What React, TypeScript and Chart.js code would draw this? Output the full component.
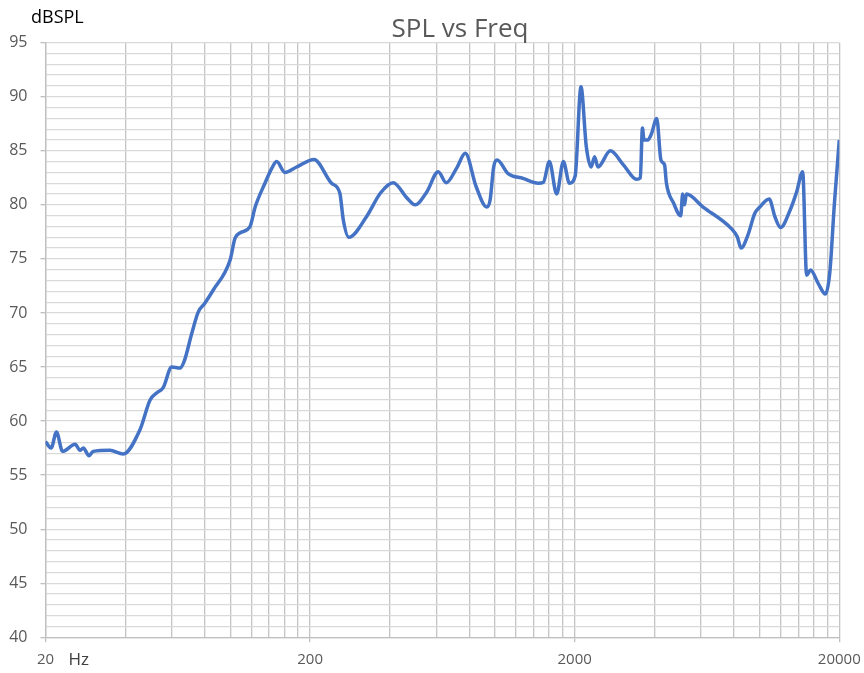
import React, { useEffect, useRef } from "react";
import { Chart, registerables } from "chart.js";

Chart.register(...registerables);

// Frequency (Hz) of each traced point
const FREQ: number[] = [
  20, 21, 22, 23.2, 25.9, 27.0, 27.8, 29.2, 30.3, 35.0,
  39.3, 45.5, 49.7, 52.6, 55.7, 60, 64.4, 67, 71.4, 75.6,
  80, 86, 99.7, 104, 108.6, 118.6, 124, 135, 143.4, 149.5,
  160.6, 177.8, 207, 241, 259, 267, 280, 326.6, 369, 412,
  466, 499, 552, 610, 654, 716, 772, 848, 930, 958,
  988, 1018, 1120, 1276, 1456, 1524, 1604, 1710, 1812, 1910,
  2008, 2112, 2212, 2308, 2378, 2448, 2728, 3056, 3426, 3540,
  3606, 3656, 3780, 3904, 4084, 4236, 4372, 4444, 4730, 5032,
  5118, 5200, 5284, 6112, 7820, 8230, 8510, 9028, 9580, 10012,
  10866, 11420, 12000, 13030, 13800, 14540, 15050, 15580, 16640, 17720,
  18400, 19170, 20000,
];

// Sound pressure level (dBSPL) at each frequency
const SPL: number[] = [
  58.1, 57.5, 59.0, 57.2, 57.85, 57.3, 57.5, 56.8, 57.2, 57.3,
  56.95, 59.2, 61.95, 62.6, 63.1, 65.0, 64.9, 65.6, 68.1, 70.1,
  70.9, 72.1, 74.9, 76.9, 77.4, 78.0, 79.8, 82.0, 83.4, 84.0,
  83.0, 83.5, 84.2, 82.0, 81.1, 78.6, 77.0, 78.9, 81.1, 82.05,
  80.6, 80.0, 81.2, 83.07, 82.05, 83.4, 84.77, 81.7, 79.8, 80.45,
  83.5, 84.15, 82.9, 82.45, 82.0, 82.1, 84.0, 81.0, 84.0, 82.0,
  82.67, 90.93, 85.4, 83.5, 84.45, 83.5, 85.0, 83.7, 82.36, 82.5,
  87.1, 86.0, 86.0, 86.6, 88.0, 84.15, 83.7, 82.0, 80.15, 79.0,
  81.0, 80.0, 81.0, 79.8, 77.8, 77.05, 76.0, 77.2, 79.2, 79.8,
  80.55, 78.9, 77.9, 79.5, 81.2, 83.07, 73.5, 73.97, 72.74, 71.75,
  73.67, 80.15, 86.0,
];

// X axis: vertical gridlines and labelled ticks
const X_GRID: number[] = [
  20, 40, 60, 80, 100, 120, 140, 160, 180,
  200, 400, 600, 800, 1000, 1200, 1400, 1600, 1800,
  2000, 4000, 6000, 8000, 10000, 12000, 14000, 16000, 18000,
  20000,
];
const X_LABELS: number[] = [20, 200, 2000, 20000];

// Y axis: labelled ticks and minor gridline step
const Y_LABELS: number[] = [40, 45, 50, 55, 60, 65, 70, 75, 80, 85, 90, 95];
const Y_MIN = 40;
const Y_MAX = 95;
const Y_MINOR_STEP = 1;

const TITLE = "SPL vs Freq";
const Y_UNIT = "dBSPL";
const X_UNIT = "Hz";

const FONT = "'Open Sans', 'Noto Sans', sans-serif";

export default function App() {
  const ref = useRef<HTMLCanvasElement | null>(null);

  useEffect(() => {
    if (!ref.current) return;
    const points = FREQ.map((f, i) => ({ x: f, y: SPL[i] }));

    const yGrid: number[] = [];
    for (let v = Y_MIN; v <= Y_MAX + 1e-9; v += Y_MINOR_STEP) yGrid.push(v);

    const textPlugin = {
      id: "extraText",
      afterDraw(chart: any) {
        const ctx = chart.ctx;
        const area = chart.chartArea;
        ctx.save();
        ctx.textBaseline = "alphabetic";
        // Title
        ctx.fillStyle = "#595959";
        ctx.font = `26px ${FONT}`;
        ctx.textAlign = "center";
        ctx.fillText(TITLE, 460, 37);
        // Y unit
        ctx.fillStyle = "#000000";
        ctx.font = `18px ${FONT}`;
        ctx.textAlign = "left";
        ctx.fillText(Y_UNIT, 31, 22.5);
        // X unit
        ctx.fillStyle = "#404040";
        ctx.font = `17px ${FONT}`;
        ctx.fillText(X_UNIT, area.left + 23, 665);
        ctx.restore();
      },
    };

    const chart = new Chart(ref.current, {
      type: "line",
      data: {
        datasets: [
          {
            data: points,
            borderColor: "#4472C4",
            backgroundColor: "#4472C4",
            borderWidth: 3.5,
            pointRadius: 0,
            cubicInterpolationMode: "monotone",
            fill: false,
          },
        ],
      },
      options: {
        responsive: false,
        animation: false,
        layout: { padding: { left: 0, right: 24.7, top: 42.7, bottom: 0 } },
        plugins: {
          legend: { display: false },
          tooltip: { enabled: false },
          title: { display: false },
        },
        scales: {
          x: {
            type: "logarithmic",
            min: 20,
            max: 20000,
            afterBuildTicks: (scale: any) => {
              scale.ticks = X_GRID.map((v) => ({ value: v }));
            },
            afterFit: (scale: any) => {
              scale.height = 35.7;
              scale.paddingLeft = 0;
              scale.paddingRight = 0;
            },
            grid: {
              color: "#c4c4c4",
              lineWidth: 1.3,
              drawTicks: true,
              tickLength: 5,
              tickColor: (c: any) =>
                c.tick && X_LABELS.includes(c.tick.value) ? "#bfbfbf" : "rgba(0,0,0,0)",
            },
            border: { color: "#bfbfbf", width: 1.3 },
            ticks: {
              autoSkip: false,
              maxRotation: 0,
              minRotation: 0,
              padding: 8,
              color: "#595959",
              font: { family: FONT, size: 15 },
              callback: (value: any) =>
                X_LABELS.includes(Number(value)) ? String(value) : "",
            },
          },
          y: {
            type: "linear",
            min: Y_MIN,
            max: Y_MAX,
            afterBuildTicks: (scale: any) => {
              scale.ticks = yGrid.map((v) => ({ value: v }));
            },
            afterFit: (scale: any) => {
              scale.width = 45.5;
              scale.paddingTop = 0;
              scale.paddingBottom = 0;
            },
            grid: {
              color: "#d9d9d9",
              lineWidth: 1.3,
              drawTicks: true,
              tickLength: 5,
              tickColor: (c: any) =>
                c.tick && Y_LABELS.includes(c.tick.value) ? "#bfbfbf" : "rgba(0,0,0,0)",
            },
            border: { color: "#bfbfbf", width: 1.3 },
            ticks: {
              autoSkip: false,
              padding: 13,
              color: "#595959",
              font: { family: FONT, size: 16 },
              callback: (value: any) =>
                Y_LABELS.includes(Number(value)) ? String(value) : "",
            },
          },
        },
      },
      plugins: [textPlugin],
    } as any);

    return () => chart.destroy();
  }, []);

  return (
    <div style={{ position: "fixed", left: 0, top: 0, width: 864, height: 673, background: "#fff" }}>
      <canvas ref={ref} width={864} height={673} style={{ display: "block" }} />
    </div>
  );
}
